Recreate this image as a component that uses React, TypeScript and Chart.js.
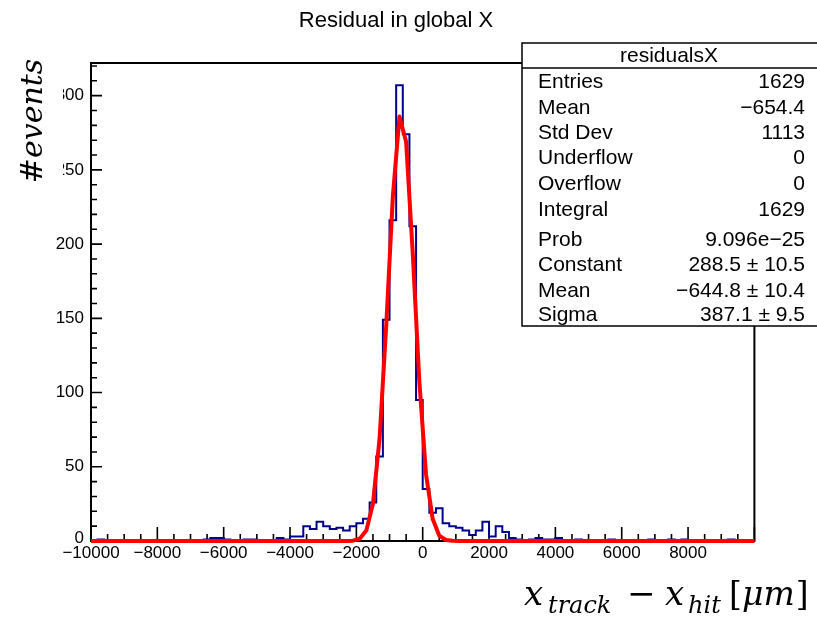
import React, { useEffect, useRef } from 'react';
import { Chart, registerables } from 'chart.js';

Chart.register(...registerables);

// Histogram: 100 bins of width 200 from -10000 to 10000
const histLowEdge = -10000;
const histBinWidth = 200;
const histCounts = [
  0, 1, 0, 0, 0, 0, 0, 0, 0, 0,
  0, 0, 0, 0, 0, 0, 0, 1, 2, 2,
  1, 0, 0, 1, 1, 0, 0, 0, 2, 1,
  3, 3, 10, 8, 13, 10, 8, 9, 7, 10,
  12, 15, 26, 57, 149, 216, 307, 274, 212, 95,
  35, 19, 22, 12, 10, 9, 7, 4, 7, 13,
  3, 10, 6, 2, 1, 0, 1, 2, 1, 1,
  2, 0, 0, 1, 0, 0, 0, 0, 1, 0,
  0, 0, 0, 0, 1, 0, 0, 1, 0, 1,
  0, 0, 0, 0, 0, 0, 1, 0, 0, 0,
];

// Gaussian fit curve as drawn (sampled at bin centres)
const fitX = [-10000, -2500, -2300, -2100, -1900, -1700, -1500, -1300, -1100, -900, -700, -500, -300, -100, 100, 300, 500, 700, 900, 1100, 10000];
const fitY = [0, 0, 0.05, 0.25, 1.5, 7, 25, 69, 145, 232, 286, 269, 194, 107, 45, 15, 3.6, 0.7, 0.1, 0, 0];

const xRange = [-10000, 10000];
const yRange = [0, 322];
const xMajorTicks = [-10000, -8000, -6000, -4000, -2000, 0, 2000, 4000, 6000, 8000, 10000];
const xTickLabels = ['\u221210000', '\u22128000', '\u22126000', '\u22124000', '\u22122000', '0', '2000', '4000', '6000', '8000', ''];
const xMinorStep = 500;
const yMajorTicks = [0, 50, 100, 150, 200, 250, 300];
const yTickLabels = ['0', '50', '100', '150', '200', '250', '300'];
const yMinorStep = 10;

const chartTitle = 'Residual in global X';
const statsTitle = 'residualsX';
const statsNames = ['Entries', 'Mean', 'Std Dev', 'Underflow', 'Overflow', 'Integral', 'Prob', 'Constant', 'Mean', 'Sigma'];
const statsValues = ['1629', '\u2212654.4', '1113', '0', '0', '1629', '9.096e\u221225', '288.5 \u00b1 10.5', '\u2212644.8 \u00b1 10.4', '387.1 \u00b1 9.5'];

const SANS = '"Liberation Sans", Arial, Helvetica, sans-serif';
const SERIF = '"DejaVu Serif", "Liberation Serif", serif';

const rootPlugin = {
  id: 'rootStyle',
  beforeDatasetsDraw(chart: any) {
    const { ctx, chartArea: a, scales } = chart;
    const x = scales.x, y = scales.y;
    ctx.save();
    ctx.strokeStyle = '#000';
    ctx.lineWidth = 1.6;
    ctx.beginPath();
    for (let v = xRange[0]; v <= xRange[1]; v += xMinorStep) {
      const px = x.getPixelForValue(v);
      const len = xMajorTicks.includes(v) ? 14 : 7;
      ctx.moveTo(px, a.bottom);
      ctx.lineTo(px, a.bottom - len);
    }
    for (let v = yRange[0]; v <= yRange[1]; v += yMinorStep) {
      const py = y.getPixelForValue(v);
      const len = yMajorTicks.includes(v) ? 11 : 6;
      ctx.moveTo(a.left, py);
      ctx.lineTo(a.left + len, py);
    }
    ctx.stroke();
    ctx.lineWidth = 2;
    ctx.strokeRect(a.left, a.top, a.right - a.left, a.bottom - a.top);
    ctx.restore();
  },
  afterDatasetsDraw(chart: any) {
    const { ctx, chartArea: a, scales } = chart;
    const x = scales.x, y = scales.y;
    ctx.save();
    ctx.fillStyle = '#000';

    // y tick labels
    ctx.font = `17px ${SANS}`;
    ctx.textAlign = 'right';
    ctx.textBaseline = 'middle';
    yMajorTicks.forEach((v, i) => {
      ctx.fillText(yTickLabels[i], a.left - 7, y.getPixelForValue(v) - (v === 0 ? 3 : 0));
    });
    // x tick labels
    ctx.textAlign = 'center';
    ctx.textBaseline = 'top';
    xMajorTicks.forEach((v, i) => {
      if (xTickLabels[i]) ctx.fillText(xTickLabels[i], x.getPixelForValue(v), a.bottom + 4);
    });

    // title
    ctx.font = `22px ${SANS}`;
    ctx.textAlign = 'center';
    ctx.textBaseline = 'middle';
    ctx.fillText(chartTitle, 396, 21);

    // y axis title (with its white box)
    ctx.fillStyle = '#fff';
    ctx.fillRect(0, 55, 63, 150);
    ctx.fillStyle = '#000';
    ctx.save();
    ctx.translate(42, 121);
    ctx.rotate(-Math.PI / 2);
    ctx.font = `italic 30px ${SERIF}`;
    ctx.textAlign = 'center';
    ctx.textBaseline = 'alphabetic';
    ctx.fillText('#events', 0, 0);
    ctx.restore();

    // x axis title
    const base = 605;
    ctx.textAlign = 'left';
    ctx.textBaseline = 'alphabetic';
    const part = (t: string, font: string, px: number, dy = 0) => {
      ctx.font = font;
      ctx.fillText(t, px, base + dy);
    };
    part('x', `italic 34px ${SERIF}`, 524);
    part('track', `italic 24px ${SERIF}`, 548, 8);
    part('\u2212', `34px ${SERIF}`, 627);
    part('x', `italic 34px ${SERIF}`, 665);
    part('hit', `italic 24px ${SERIF}`, 688, 8);
    part('[', `33px ${SERIF}`, 729);
    part('\u03bcm', `italic 33px ${SERIF}`, 742);
    ctx.font = `italic 33px ${SERIF}`;
    const wmu = ctx.measureText('\u03bcm').width;
    part(']', `33px ${SERIF}`, 742 + wmu + 1);

    // stats box
    const bx = 522, by = 43, bw = 330, bh = 283;
    ctx.fillStyle = '#fff';
    ctx.fillRect(bx, by, bw, bh);
    ctx.strokeStyle = '#000';
    ctx.lineWidth = 1.5;
    ctx.strokeRect(bx, by, bw, bh);
    ctx.beginPath();
    ctx.moveTo(bx, 68);
    ctx.lineTo(bx + bw, 68);
    ctx.stroke();
    ctx.fillStyle = '#000';
    ctx.font = `21px ${SANS}`;
    ctx.textAlign = 'center';
    ctx.textBaseline = 'middle';
    ctx.fillText(statsTitle, 669, 56);
    const rowY = [82, 108, 133, 158, 184, 210, 240, 265, 291, 315];
    ctx.font = `21px ${SANS}`;
    statsNames.forEach((n, i) => {
      ctx.textAlign = 'left';
      ctx.fillText(n, 538, rowY[i]);
      ctx.textAlign = 'right';
      ctx.fillText(statsValues[i], 805, rowY[i]);
    });
    ctx.restore();
  },
};

export default function App() {
  const ref = useRef<HTMLCanvasElement | null>(null);
  useEffect(() => {
    if (!ref.current) return;
    const histPoints: { x: number; y: number }[] = [{ x: histLowEdge, y: 0 }];
    histCounts.forEach((c, i) => {
      histPoints.push({ x: histLowEdge + i * histBinWidth, y: c });
      histPoints.push({ x: histLowEdge + (i + 1) * histBinWidth, y: c });
    });
    const histHigh = histLowEdge + histCounts.length * histBinWidth;
    histPoints.push({ x: histHigh, y: 0 });

    const chart = new Chart(ref.current, {
      type: 'line',
      data: {
        datasets: [
          {
            label: 'fit',
            data: fitX.map((v, i) => ({ x: v, y: fitY[i] })),
            borderColor: '#ff0000',
            borderWidth: 4,
            pointRadius: 0,
            tension: 0,
            clip: false,
            order: 0,
            borderJoinStyle: 'round',
          } as any,
          {
            label: 'hist',
            data: histPoints,
            borderColor: '#00008f',
            borderWidth: 2,
            pointRadius: 0,
            tension: 0,
            clip: false,
            order: 1,
          } as any,
        ],
      },
      options: {
        animation: false,
        responsive: false,
        devicePixelRatio: 1,
        events: [],
        layout: { padding: { left: 91, right: 62.6, top: 63, bottom: 78 } },
        scales: {
          x: { type: 'linear', min: xRange[0], max: xRange[1], display: false },
          y: { type: 'linear', min: yRange[0], max: yRange[1], display: false },
        },
        plugins: { legend: { display: false }, tooltip: { enabled: false } },
      },
      plugins: [rootPlugin],
    });
    return () => chart.destroy();
  }, []);

  return (
    <div style={{ position: 'fixed', left: 0, top: 0, width: 817, height: 619, background: '#fff' }}>
      <canvas ref={ref} width={817} height={619} style={{ width: 817, height: 619, display: 'block' }} />
    </div>
  );
}
